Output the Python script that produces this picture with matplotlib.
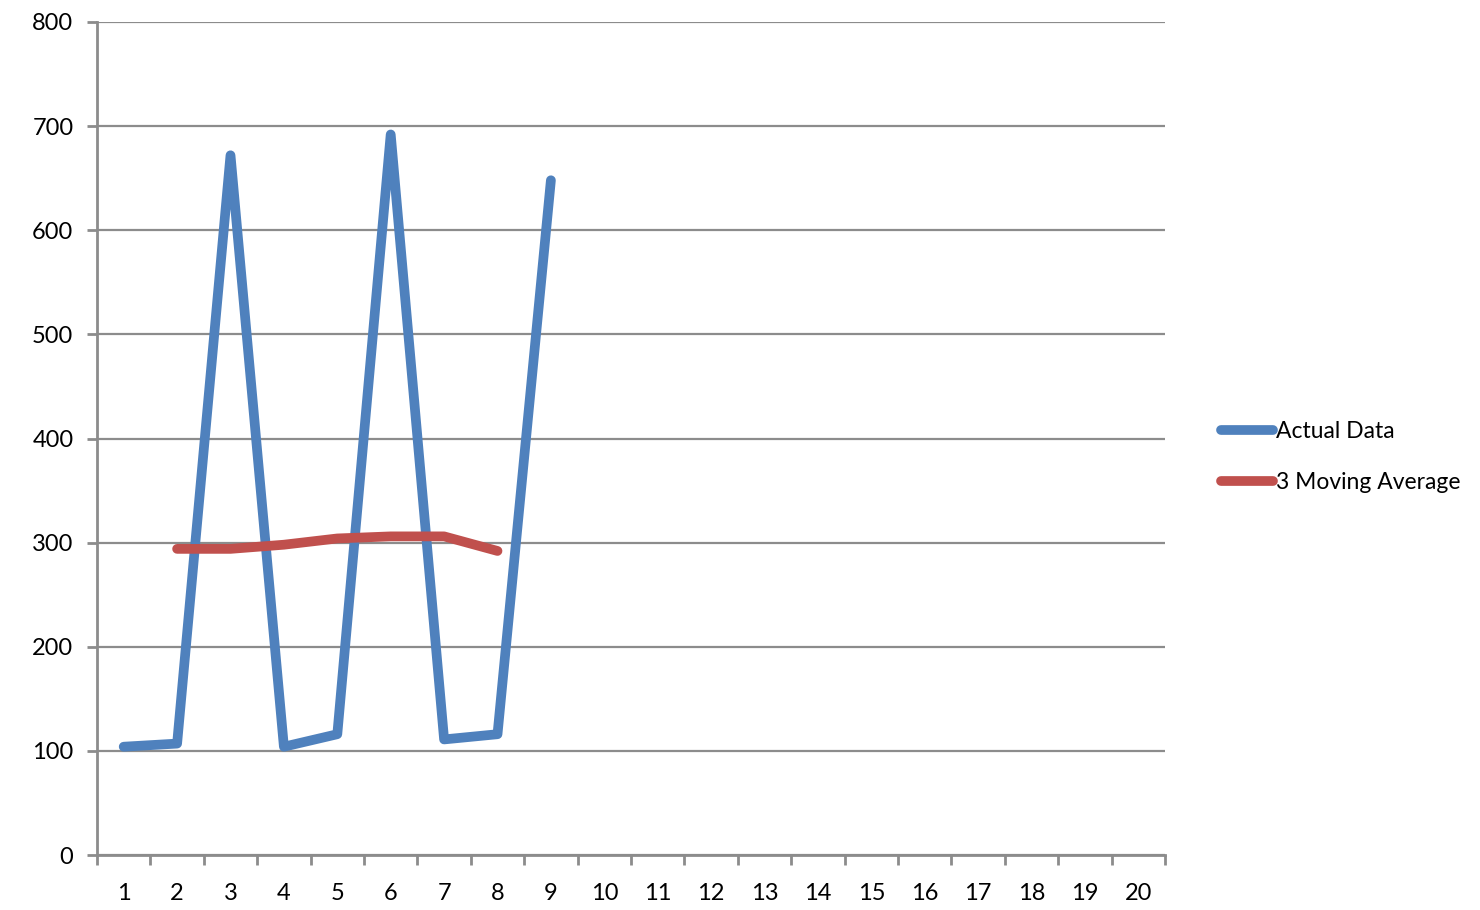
import numpy as np
import matplotlib
matplotlib.use("Agg")
import matplotlib.pyplot as plt

plt.rcParams["font.family"] = ["Lato", "DejaVu Sans"]

# ---- data ----------------------------------------------------------------
categories = list(range(1, 21))
actual_x = [1, 2, 3, 4, 5, 6, 7, 8, 9]
actual_y = [104, 107, 672, 104, 116, 692, 111, 116, 648]
ma_x = [2, 3, 4, 5, 6, 7, 8]
ma_y = [294, 294, 298, 304, 306, 306, 292]
yticks = [0, 100, 200, 300, 400, 500, 600, 700, 800]

BLUE, RED, GRAY = "#4F81BD", "#C0504D", "#8C8C8C"

fig = plt.figure(figsize=(14.8, 9.1), dpi=100)
ax = fig.add_axes([97 / 1480, 1 - 855 / 910, (1165 - 97) / 1480, (855 - 22) / 910])

ax.plot(actual_x, actual_y, color=BLUE, lw=7, solid_joinstyle="round",
        solid_capstyle="round", label="Actual Data", zorder=3)
ax.plot(ma_x, ma_y, color=RED, lw=7, solid_joinstyle="round",
        solid_capstyle="round", label="3 Moving Average", zorder=3)

ax.set_xlim(0.5, 20.5)
ax.set_ylim(0, 800)
ax.set_yticks(yticks)
ax.set_xticks(categories)
ax.set_xticks(np.arange(0.5, 21, 1), minor=True)
ax.tick_params(axis="x", which="major", length=0, pad=20, labelsize=17)
ax.tick_params(axis="x", which="minor", length=7, width=2, color=GRAY)
ax.tick_params(axis="y", length=7, width=2, color=GRAY, pad=10, labelsize=17)

ax.grid(axis="y", color=GRAY, lw=1.6)
ax.set_axisbelow(True)
for s in ("top", "right"):
    ax.spines[s].set_visible(False)
for s in ("left", "bottom"):
    ax.spines[s].set_color(GRAY)
    ax.spines[s].set_linewidth(2)

fig.legend(loc="center left", bbox_to_anchor=(1200 / 1480, 1 - 457 / 910),
           frameon=False, fontsize=16.5, handlelength=2.3, handletextpad=0.12,
           labelspacing=1.35)

fig.savefig("out.png", dpi=100, facecolor="white")
